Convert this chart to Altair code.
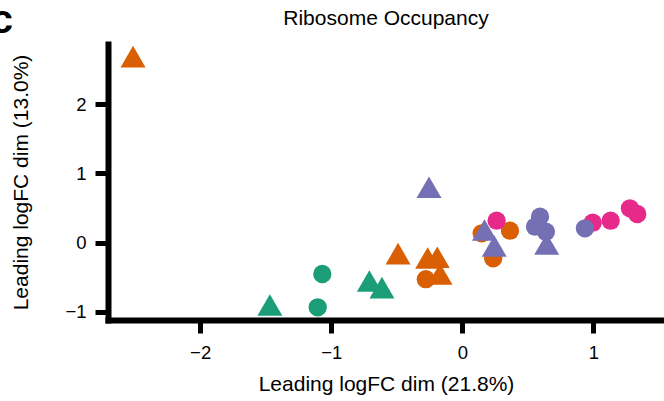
import altair as alt
import pandas as pd

# --- data (x = dim 1, y = dim 2) ---
groups = ["G1"] * 9 + ["G2"] * 5 + ["G3"] * 5 + ["G4"] * 8
shapes = (["tri", "tri", "tri", "tri", "tri", "cir", "cir", "cir", "cir"]
          + ["tri", "cir", "cir", "tri", "tri"]
          + ["cir", "cir", "cir", "cir", "cir"]
          + ["tri", "tri", "tri", "tri", "cir", "cir", "cir", "cir"])
x_vals = [-2.512, -0.490, -0.264, -0.191, -0.170, -0.278, 0.148, 0.364, 0.236,
          -1.468, -1.068, -1.103, -0.709, -0.613,
          0.262, 0.995, 1.132, 1.279, 1.335,
          -0.254, 0.169, 0.244, 0.644, 0.593, 0.555, 0.638, 0.936]
y_vals = [2.688, -0.159, -0.221, -0.210, -0.452, -0.527, 0.136, 0.173, -0.225,
          -0.900, -0.452, -0.934, -0.553, -0.650,
          0.318, 0.289, 0.318, 0.497, 0.415,
          0.801, 0.184, -0.048, -0.019, 0.376, 0.231, 0.159, 0.208]

group_names = ["G1", "G2", "G3", "G4"]
group_colors = ["#D95F02", "#1B9E77", "#E7298A", "#7570B3"]
x_ticks = [-2, -1, 0, 1]
y_ticks = [-1, 0, 1, 2]
title_text = "Ribosome Occupancy"
panel_text = "c"

df = pd.DataFrame({"group": groups, "shape": shapes, "x": x_vals, "y": y_vals})
df["order"] = range(len(df))

FONT = "Liberation Sans"

base = alt.Chart(df)

pts = base.mark_point(filled=True, opacity=1, strokeWidth=0).encode(
    x=alt.X("x:Q", scale=alt.Scale(domain=[-2.703, 1.539], nice=False, zero=False),
            axis=alt.Axis(values=x_ticks, title="Leading logFC dim (21.8%)")),
    y=alt.Y("y:Q", scale=alt.Scale(domain=[-1.117, 2.871], nice=False, zero=False),
            axis=alt.Axis(values=y_ticks, title="Leading logFC dim (13.0%)")),
    color=alt.Color("group:N", scale=alt.Scale(domain=group_names, range=group_colors), legend=None),
    shape=alt.Shape("shape:N", scale=alt.Scale(domain=["cir", "tri"], range=["circle", "triangle-up"]), legend=None),
    size=alt.Size("shape:N", scale=alt.Scale(domain=["cir", "tri"], range=[335, 625]), legend=None),
    order=alt.Order("order:Q"),
)

label = alt.Chart(pd.DataFrame({"t": [panel_text]})).mark_text(
    font=FONT, fontSize=40, fontWeight="bold", align="right", baseline="alphabetic", color="black"
).encode(x=alt.value(-95), y=alt.value(-10.7), text="t:N")

title = alt.Chart(pd.DataFrame({"t": [title_text]})).mark_text(
    font=FONT, fontSize=21, align="center", baseline="alphabetic", color="black"
).encode(x=alt.value(278), y=alt.value(-19), text="t:N")

chart = alt.layer(pts, label, title).properties(
    width=556, height=276,
    autosize=alt.AutoSizeParams(type="none"),
    padding={"left": 108, "top": 44, "right": 0, "bottom": 81},
).configure_view(stroke=None).configure_axis(
    grid=False,
    domainColor="black", domainWidth=6, domainCap="square",
    tickColor="black", tickWidth=5, tickSize=13,
    labelFont=FONT, labelFontSize=18.5, labelColor="black",
    titleFont=FONT, titleFontSize=21, titleFontWeight="normal", titleColor="black",
).configure_axisX(labelPadding=10, titlePadding=12).configure_axisY(labelPadding=9, titlePadding=33)

chart.save("out.html", embed_options={"renderer": "svg", "actions": False})
